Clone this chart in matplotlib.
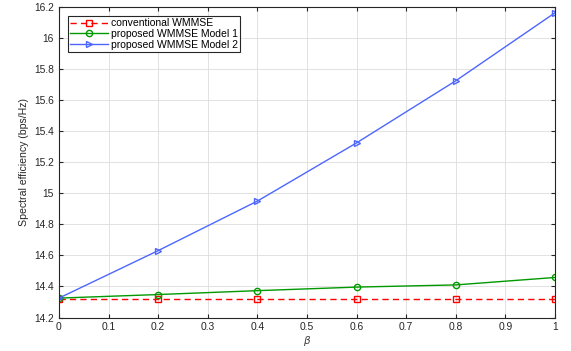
import matplotlib
matplotlib.use('Agg')
import matplotlib.pyplot as plt

beta = [0, 0.2, 0.4, 0.6, 0.8, 1.0]
conv = [14.32, 14.32, 14.32, 14.32, 14.32, 14.32]
model1 = [14.325, 14.348, 14.373, 14.396, 14.41, 14.458]
model2 = [14.325, 14.631, 14.95, 15.325, 15.725, 16.163]

plt.rcParams['font.family'] = ['Liberation Sans', 'DejaVu Sans']

fig = plt.figure(figsize=(5.71, 3.51), dpi=100)
ax = fig.add_axes([0.1033, 0.0954, 0.8687, 0.8846])

ax.plot(beta, conv, '--s', color='#ff0000', lw=1.0, ms=3.8, mfc='none', mew=1.0,
        dashes=(4.5, 3), label='conventional WMMSE')
ax.plot(beta, model1, '-o', color='#009900', lw=1.0, ms=4.5, mfc='none', mew=1.0,
        label='proposed WMMSE Model 1')
ax.plot(beta, model2, '->', color='#4d66ff', lw=1.0, ms=4.5, mfc='none', mew=1.0,
        label='proposed WMMSE Model 2')

ax.set_xlim(0, 1)
ax.set_ylim(14.2, 16.2)
ax.set_xticks([0, 0.1, 0.2, 0.3, 0.4, 0.5, 0.6, 0.7, 0.8, 0.9, 1])
ax.set_xticklabels(['0', '0.1', '0.2', '0.3', '0.4', '0.5', '0.6', '0.7', '0.8', '0.9', '1'])
ax.set_yticks([14.2, 14.4, 14.6, 14.8, 15, 15.2, 15.4, 15.6, 15.8, 16, 16.2])
ax.set_yticklabels(['14.2', '14.4', '14.6', '14.8', '15', '15.2', '15.4', '15.6', '15.8', '16', '16.2'])
ax.tick_params(direction='in', top=True, right=True, labelsize=7.4, length=3, width=0.8,
               colors='#262626', pad=3.5)
ax.grid(True, color='#dddddd', lw=0.6)
for s in ax.spines.values():
    s.set_color('#262626')
    s.set_linewidth(0.8)

ax.set_xlabel(r'$\beta$', fontsize=7.5, color='#404040', labelpad=1)
ax.set_ylabel('Spectral efficiency (bps/Hz)', fontsize=7.6, color='#262626', labelpad=4)

leg = ax.legend(loc='upper left', fontsize=7.5, fancybox=False, edgecolor='#262626',
                framealpha=1, borderpad=0.25, labelspacing=0.05, handlelength=3.6,
                borderaxespad=0.85, handletextpad=0.25)
leg.get_frame().set_linewidth(0.8)

fig.savefig('out.png', dpi=100)
